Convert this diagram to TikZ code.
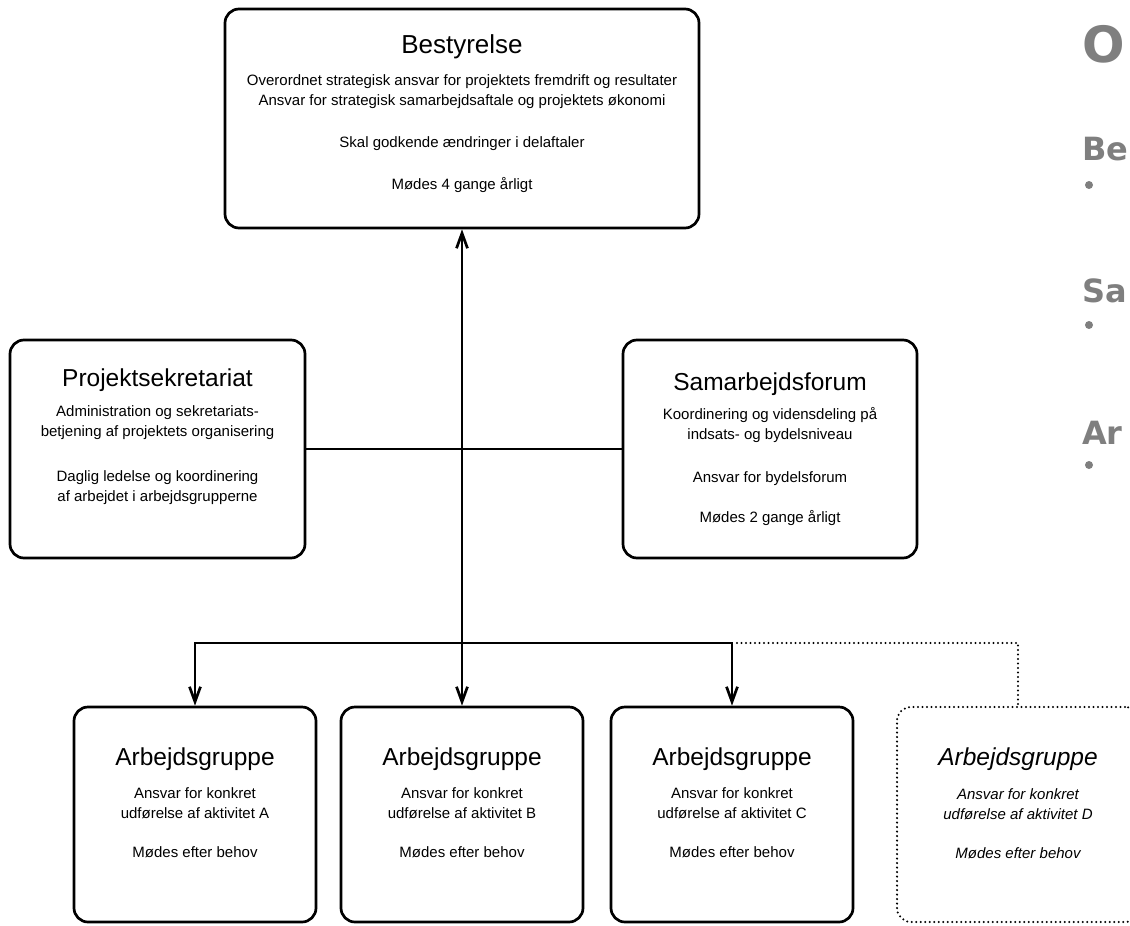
\documentclass[tikz,border=0pt]{standalone}
\usepackage{fontspec}
\setmainfont{Liberation Sans}
\newfontfamily\sidefont{DejaVu Sans}
\usetikzlibrary{positioning,arrows.meta}
\definecolor{sidegray}{HTML}{7F7F7F}
\tikzset{box/.style={draw,line width=2.7pt,rounded corners=14pt,inner sep=0pt},
  grp/.style={box,minimum width=242pt,minimum height=215pt},
  heading/.style={inner sep=0pt,font=\fontsize{24.5}{28}\selectfont},
  body/.style={inner sep=0pt,align=center,font=\fontsize{15}{20}\selectfont},
  link/.style={line width=2.7pt},
  dots/.style={line width=2.3pt,line cap=round,dash pattern=on 0pt off 4.5pt},
  side/.style={inner sep=0pt,anchor=base west,text=sidegray,font=\sidefont\bfseries\fontsize{32}{38}\selectfont},
  >={Straight Barb[length=15pt,width=11pt]}}

\begin{document}
\begin{tikzpicture}[x=1pt,y=-1pt]
\useasboundingbox (0,0) rectangle (1130,926);
\clip (0,0) rectangle (1130,926);

% boxes
\node[box,minimum width=474pt,minimum height=219pt] (best) at (462,118.5) {};
\node[box,minimum width=295pt,minimum height=218pt] (sek) at (157.5,449) {};
\node[box,minimum width=294pt,minimum height=218pt] (sam) at (770,449) {};
\node[grp] (agA) at (195,814.5) {};
\node[grp] (agB) at (462,814.5) {};
\node[grp] (agC) at (732,814.5) {};
\node[grp,dots] (agD) at (1018,814.5) {};

% texts
\node[heading,font=\fontsize{26}{30}\selectfont,below=26.5pt of best.north] (bestT) {Bestyrelse};
\node[body,below=16pt of bestT] (bestB) {Overordnet strategisk ansvar for projektets fremdrift og resultater\\
  Ansvar for strategisk samarbejdsaftale og projektets økonomi\\[22pt]
  Skal godkende ændringer i delaftaler\\[22pt]
  Mødes 4 gange årligt};
\node[heading,below=30pt of sek.north] (sekT) {Projektsekretariat};
\node[body,below=14pt of sekT] (sekB) {Administration og sekretariats-\\
  betjening af projektets organisering\\[25pt]
  Daglig ledelse og koordinering\\
  af arbejdet i arbejdsgrupperne};
\node[heading,below=34pt of sam.north] (samT) {Samarbejdsforum};
\node[body,below=11pt of samT] (samB) {Koordinering og vidensdeling på\\
  indsats- og bydelsniveau\\[23pt]
  Ansvar for bydelsforum\\[20pt]
  Mødes 2 gange årligt};
\foreach \g/\a in {A/A,B/B,C/C}{
  \node[heading,below=42pt of ag\g.north] (ag\g T) {Arbejdsgruppe};
  \node[body,below=17pt of ag\g T] (ag\g B) {Ansvar for konkret\\
    udførelse af aktivitet \a\\[19pt]
    Mødes efter behov};
}
\node[heading,font=\fontsize{24.5}{28}\selectfont\itshape,below=42pt of agD.north] (agDT) {Arbejdsgruppe};
\node[body,font=\fontsize{15}{20}\selectfont\itshape,below=17pt of agDT] (agDB) {Ansvar for konkret\\
  udførelse af aktivitet D\\[19pt]
  Mødes efter behov};

% connectors
\coordinate (bus) at (462,643);
\draw[link,<->] (best.south) -- (agB.north);
\draw[link] (sek) -- (sam);
\draw[link,<->,line join=miter] (agA.north) -- (agA.north |- bus) -- (agC.north |- bus) -- (agC.north);
\draw[dots] ([xshift=5pt]agC.north |- bus) -- (agD.north |- bus) -- (agD.north);

% cut-off side text
\node[side,font=\sidefont\bfseries\fontsize{50}{60}\selectfont] (sideO) at (1082.5,62) {O};
\node[side] (sideBe) at (1082,160) {Be};
\node[side] (sideSa) at (1082,302) {Sa};
\node[side] (sideAr) at (1082,444) {Ar};
\foreach \y in {185,325,465}
  \fill[sidegray] (1089,\y) circle (4pt);
\end{tikzpicture}
\end{document}
